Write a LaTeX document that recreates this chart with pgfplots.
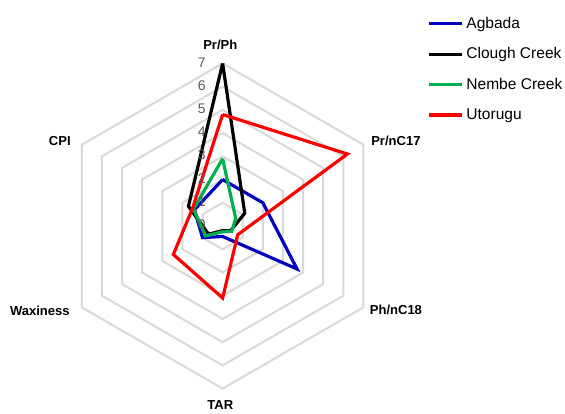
\documentclass[border=0pt]{standalone}
\usepackage{pgfplots}
\pgfplotsset{compat=1.18}
\usepackage{fontspec}
\setmainfont{Liberation Sans}
\definecolor{cAg}{RGB}{0,0,192}
\definecolor{cCl}{RGB}{0,0,0}
\definecolor{cNe}{RGB}{0,176,80}
\definecolor{cUt}{RGB}{255,0,0}
\definecolor{grd}{RGB}{217,217,217}
\definecolor{tck}{RGB}{89,89,89}
\begin{document}
\begin{tikzpicture}
\begin{axis}[
  x=17.475pt, y=17.475pt,
  xmin=-9.584, xmax=14.665, ymin=-8.039, ymax=9.73,
  hide axis, clip=false,
  legend style={at={(axis cs:8.8,9.12)}, anchor=north west, draw=none, fill=none,
    font=\fontsize{11.7}{13.5}\selectfont, row sep=9pt, inner sep=0pt},
  legend cell align=left,
  legend image code/.code={\draw[#1] (0pt,0pt) -- (25pt,0pt);},
]
\path (rel axis cs:0,0) rectangle (rel axis cs:1,1);
% hexagonal grid rings
\pgfplotsinvokeforeach{1,2,3,4,5,6,7}{
  \addplot[grd, line width=1.5pt, data cs=polar, forget plot]
    coordinates {(90,#1) (30,#1) (-30,#1) (-90,#1) (-150,#1) (150,#1) (90,#1)};
}
% series: Pr/Ph, Pr/nC17, Ph/nC18, TAR, Waxiness, CPI
\addplot[cAg, line width=2.4pt, data cs=polar]
  coordinates {(90,2.0) (30,2.0) (-30,3.7) (-90,0.45) (-150,1.0) (150,1.4) (90,2.0)};
\addlegendentry{Agbada}
\addplot[cCl, line width=2.4pt, data cs=polar]
  coordinates {(90,7.0) (30,1.1) (-30,0.4) (-90,0.2) (-150,0.7) (150,1.7) (90,7.0)};
\addlegendentry{Clough Creek}
\addplot[cNe, line width=2.4pt, data cs=polar]
  coordinates {(90,2.9) (30,0.65) (-30,0.45) (-90,0.25) (-150,0.85) (150,1.45) (90,2.9)};
\addlegendentry{Nembe Creek}
\addplot[cUt, line width=2.4pt, data cs=polar]
  coordinates {(90,4.8) (30,6.2) (-30,0.75) (-90,3.1) (-150,2.45) (150,1.5) (90,4.8)};
\addlegendentry{Utorugu}
% radial tick labels
\pgfplotsinvokeforeach{0,1,2,3,4,5,6,7}{
  \node[text=tck, font=\fontsize{10.5}{12}\selectfont] at (axis cs:-0.9,#1+0.05) {#1};
}
% category labels
\begin{scope}[every node/.style={font=\bfseries\fontsize{9.8}{11}\selectfont}]
\node at (axis cs:-0.1,7.8) {Pr/Ph};
\node at (axis cs:7.46,3.67) {Pr/nC17};
\node at (axis cs:7.46,-3.63) {Ph/nC18};
\node at (axis cs:-0.1,-7.7) {TAR};
\node at (axis cs:-7.87,-3.67) {Waxiness};
\node at (axis cs:-7.01,3.67) {CPI};
\end{scope}
\end{axis}
\end{tikzpicture}
\end{document}
